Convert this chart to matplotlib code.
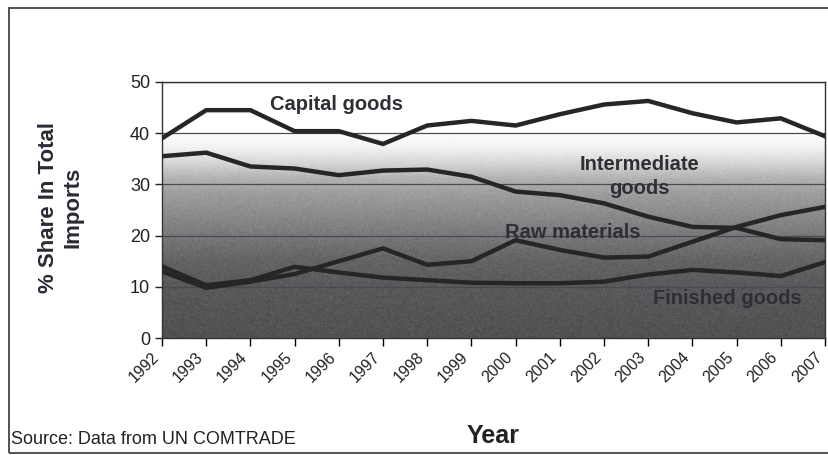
import numpy as np
import matplotlib
matplotlib.use("Agg")
import matplotlib.pyplot as plt
from matplotlib.patches import Rectangle

plt.rcParams['font.family'] = ['Liberation Sans', 'DejaVu Sans']

years = list(range(1992, 2008))
capital_goods = [39.0, 44.5, 44.5, 40.4, 40.4, 37.9, 41.5, 42.4, 41.5, 43.7, 45.6, 46.3, 43.9, 42.1, 42.9, 39.4]
intermediate_goods = [35.5, 36.2, 33.5, 33.1, 31.8, 32.7, 32.9, 31.5, 28.6, 27.9, 26.3, 23.7, 21.7, 21.5, 19.3, 19.1]
raw_materials = [13.0, 9.8, 11.0, 12.5, 15.0, 17.5, 14.3, 15.0, 19.1, 17.2, 15.7, 15.9, 18.8, 21.7, 24.0, 25.6]
finished_goods = [14.0, 10.3, 11.3, 13.9, 12.8, 11.8, 11.3, 10.8, 10.7, 10.7, 11.0, 12.4, 13.3, 12.8, 12.1, 14.8]

series_labels = ["Capital goods", "Intermediate\ngoods", "Raw materials", "Finished goods"]
label_pos = [(1995.95, 45.6), (2002.8, 31.6), (2001.3, 20.7), (2004.8, 7.8)]

fig = plt.figure(figsize=(8.29, 4.55), dpi=100)
fig.patch.set_facecolor("white")
ax = fig.add_axes([0.1954, 0.2571, 0.7998, 0.5627])

# vertical grey gradient behind the plot, with a fine grain
ys = np.linspace(0, 50, 400)
stops_y = [0, 10, 15, 20, 25, 28, 31, 34, 37, 40, 50]
stops_v = [0.33, 0.36, 0.40, 0.48, 0.57, 0.62, 0.70, 0.84, 0.95, 1.0, 1.0]
shade = np.interp(ys, stops_y, stops_v)
rng = np.random.default_rng(7)
grain = rng.normal(0, 0.035, (400, 700)) * (1 - shade[:, None]) ** 0.5
img = np.clip(shade[:, None] + grain, 0, 1)
tint = 0.015 * (1 - shade[:, None])
rgb = np.dstack([np.clip(img - tint, 0, 1), np.clip(img - tint, 0, 1), img])
ax.imshow(rgb, extent=[1992, 2007, 0, 50], origin="lower", aspect="auto",
          interpolation="bilinear", zorder=0)

for v in range(10, 51, 10):
    ax.axhline(v, color="#4a4a50", lw=0.9, zorder=1)

for vals in (capital_goods, intermediate_goods, raw_materials, finished_goods):
    ax.plot(years, vals, color="#262626", lw=3.2, solid_joinstyle="round", zorder=3)

for text, (x, y) in zip(series_labels, label_pos):
    ax.text(x, y, text, ha="center", va="center", fontsize=14.5, fontweight="bold",
            color="#2e2e34", linespacing=1.35, zorder=4)

ax.set_xlim(1992, 2007)
ax.set_ylim(0, 50)
ax.set_yticks(range(0, 51, 10))
ax.set_xticks(years)
ax.set_xticklabels([str(y) for y in years], rotation=45, ha="right",
                   fontsize=11.5, color="#222")
ax.tick_params(axis="y", labelsize=13, colors="#222", length=5, width=1, direction="out")
ax.tick_params(axis="x", length=6, width=1, direction="out", pad=2)
for side in ("left", "bottom", "right", "top"):
    ax.spines[side].set_color("#333")
    ax.spines[side].set_linewidth(1.0)

fig.text(0.073, 0.545, "% Share In Total\nImports", rotation=90, ha="center", va="center",
         fontsize=16, fontweight="bold", color="#2a2a34", linespacing=1.2)
fig.text(0.595, 0.042, "Year", ha="center", va="center", fontsize=18,
         fontweight="bold", color="#222")
fig.text(0.013, 0.033, "Source: Data from UN COMTRADE", ha="left", va="center",
         fontsize=13, color="#222")

fig.patches.append(Rectangle((0.011, 0.005), 1.2, 0.978, transform=fig.transFigure,
                             fill=False, edgecolor="#444", lw=1.3))

fig.savefig("out.png", dpi=100)
